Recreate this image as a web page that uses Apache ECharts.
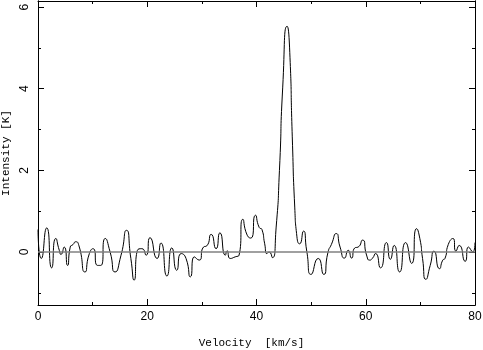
<!DOCTYPE html>
<html>
<head>
<meta charset="utf-8">
<script src="https://cdn.jsdelivr.net/npm/echarts@6/dist/echarts.min.js"></script>
<style>
  html, body { margin: 0; padding: 0; background: #fff; }
  #main { width: 483px; height: 350px; }
</style>
</head>
<body>
<div id="main"></div>
<script>
// spectrum (velocity in km/s, intensity in K)
const velocity = [
  0.0, 0.6, 1.6, 2.5, 3.25, 3.9, 4.2, 4.8, 5.4, 5.9, 6.4, 6.9, 7.5, 8.6, 9.4,
  10.1, 10.9, 11.5, 12.3, 13.2, 14.1, 15.2, 16.2, 17.0, 17.6, 18.2, 19.0, 19.8,
  20.5, 21.8, 22.5, 23.6, 24.5, 25.4, 26.2, 27.1, 27.9, 28.6, 29.5, 30.3, 30.9,
  31.7, 32.6, 33.3, 34.3, 34.6, 35.2, 36.1, 36.8, 37.5, 38.3, 39.0, 39.8, 40.5,
  41.0, 41.5, 41.9, 42.3, 42.9, 43.6, 44.2, 44.8, 45.6, 46.05, 46.55, 47.0, 47.4,
  47.9, 48.6, 49.2, 50.0, 51.3, 52.3, 53.1, 53.7, 54.6, 55.3, 56.1, 56.8, 57.4,
  58.0, 58.6, 59.4, 60.2, 60.7, 61.2, 61.8, 62.7, 63.8, 64.5, 65.2, 66.2, 67.3,
  68.4, 69.3, 69.9, 70.4, 71.0, 71.8, 72.5, 73.5, 74.1, 74.5, 75.1, 76.0, 76.5,
  77.1, 78.2, 78.8, 79.6, 80.0
]
const intensity = [
  0.55, -0.16, 0.59, -0.39, 0.33, 0.04, -0.06, 0.12, -0.33, 0.12, 0.18, 0.25, 0.15, -0.49, -0.04,
  0.08, -0.33, -0.33, 0.33, 0.0, -0.49, -0.08, 0.53, -0.16, -0.69, 0.04, 0.08, -0.08,
  0.35, -0.16, 0.22, -0.59, 0.10, -0.45, -0.04, -0.16, -0.61, -0.12, -0.20, 0.12, 0.15,
  0.43, 0.08, 0.47, -0.08, 0.03, -0.16, -0.12, -0.08, 0.80, 0.41, 0.34, 0.90, 0.60,
  0.55, 0.20, -0.04, 0.0, -0.14, 0.61, 2.0, 4.04, 5.53, 5.02, 2.82, 1.10, 0.37,
  0.20, 0.51, 0.02, -0.55, -0.16, -0.55, 0.0, 0.18, 0.45, 0.12, -0.15, 0.04, -0.15,
  0.10, 0.12, 0.29, -0.10, -0.20, -0.16, -0.04, -0.39, 0.23, -0.18, 0.16, -0.49, 0.23,
  -0.28, 0.57, 0.33, -0.16, -0.67, -0.33, 0.02, -0.41, -0.20, -0.16, 0.18, 0.33, 0.02,
  0.16, -0.23, 0.12, 0.0, 0.23
]
const yMajorTicks = [0, 2, 4, 6]
const yMinorTicks = [-1, 1, 3, 5]

const axisColor = '#000'
const labelFont = 'Liberation Sans'
const titleFont = 'Liberation Mono'

function xAxisDef (pos, withLabels) {
  return {
    type: 'value',
    position: pos,
    min: 0,
    max: 80,
    interval: 20,
    axisLine: { show: true, onZero: false, lineStyle: { color: axisColor, width: 1 } },
    axisTick: { show: true, inside: true, length: 6, lineStyle: { color: axisColor } },
    minorTick: { show: true, splitNumber: 2, length: 3, lineStyle: { color: axisColor } },
    axisLabel: { show: withLabels, color: '#000', fontSize: 12, fontFamily: labelFont, margin: 6 },
    splitLine: { show: false },
    minorSplitLine: { show: false },
    name: withLabels ? 'Velocity  [km/s]' : '',
    nameLocation: 'middle',
    nameGap: 33,
    nameTextStyle: { color: '#000', fontSize: 11, fontFamily: titleFont, padding: [0, 10, 0, 0] }
  }
}

function yAxisDef (pos, ticks, len, withLabels) {
  return {
    type: 'value',
    position: pos,
    min: -1.3,
    max: 6.15,
    axisLine: { show: true, onZero: false, lineStyle: { color: axisColor, width: 1 } },
    axisTick: { show: true, inside: true, length: len, customValues: ticks, lineStyle: { color: axisColor } },
    axisLabel: {
      show: withLabels, customValues: ticks, rotate: 90, color: '#000',
      fontSize: 12, fontFamily: labelFont, margin: 7
    },
    splitLine: { show: false },
    name: withLabels ? 'Intensity [K]' : '',
    nameLocation: 'middle',
    nameGap: 24,
    nameTextStyle: { color: '#000', fontSize: 11, fontFamily: titleFont }
  }
}

const points = velocity.map((v, i) => [v, intensity[i]])

const chart = echarts.init(document.getElementById('main'), null, { renderer: 'canvas' })
chart.setOption({
  backgroundColor: '#fff',
  animation: false,
  grid: { left: 38, right: 8, top: 1, bottom: 45, containLabel: false, outerBoundsMode: 'none' },
  xAxis: [xAxisDef('bottom', true), xAxisDef('top', false)],
  yAxis: [
    yAxisDef('left', yMajorTicks, 6, true),
    yAxisDef('left', yMinorTicks, 3, false),
    yAxisDef('right', yMajorTicks, 6, false),
    yAxisDef('right', yMinorTicks, 3, false)
  ],
  series: [
    {
      type: 'line',
      xAxisIndex: 0,
      yAxisIndex: 0,
      data: points,
      smooth: 0.7,
      symbol: 'none',
      lineStyle: { color: '#000', width: 1 },
      markLine: {
        silent: true,
        symbol: 'none',
        label: { show: false },
        lineStyle: { color: '#808080', width: 1.5, type: 'solid' },
        data: [{ yAxis: 0 }]
      }
    }
  ]
})
</script>
</body>
</html>
